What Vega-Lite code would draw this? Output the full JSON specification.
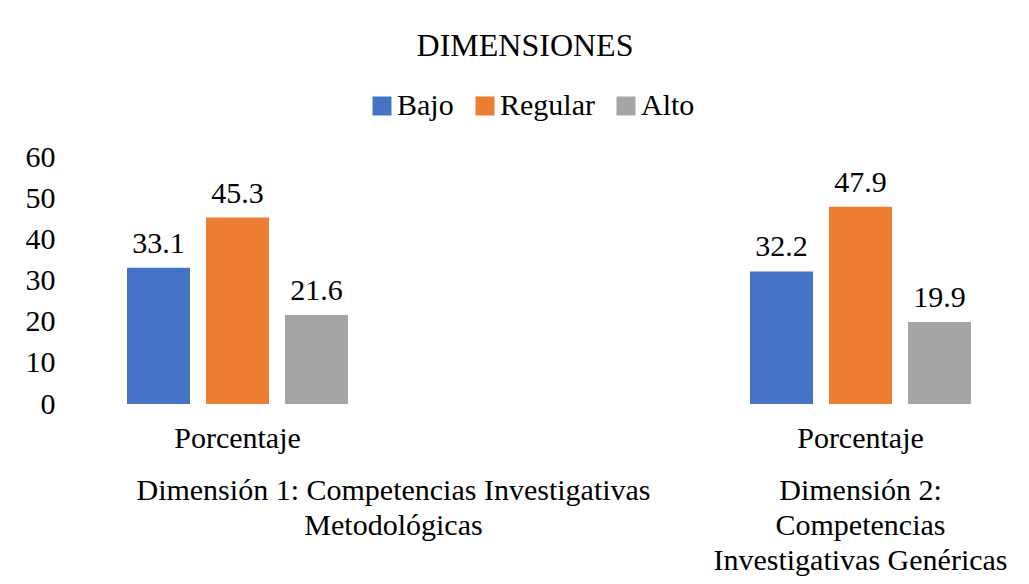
{
  "$schema": "https://vega.github.io/schema/vega-lite/v6.json",
  "width": 950,
  "height": 247,
  "autosize": {"type": "none"},
  "padding": {"left": 74, "top": 157, "right": 5, "bottom": 180},
  "background": "white",
  "title": {
    "text": "DIMENSIONES",
    "font": "Liberation Serif",
    "fontSize": 32,
    "fontWeight": "normal",
    "color": "#000000",
    "anchor": "middle",
    "frame": "group",
    "dx": -24,
    "offset": 28
  },
  "data": {
    "values": [
      {"dimension": "Dimensión 1: Competencias Investigativas Metodológicas", "nivel": "Bajo", "valor": 33.1},
      {"dimension": "Dimensión 1: Competencias Investigativas Metodológicas", "nivel": "Regular", "valor": 45.3},
      {"dimension": "Dimensión 1: Competencias Investigativas Metodológicas", "nivel": "Alto", "valor": 21.6},
      {"dimension": "Dimensión 2: Competencias Investigativas Genéricas", "nivel": "Bajo", "valor": 32.2},
      {"dimension": "Dimensión 2: Competencias Investigativas Genéricas", "nivel": "Regular", "valor": 47.9},
      {"dimension": "Dimensión 2: Competencias Investigativas Genéricas", "nivel": "Alto", "valor": 19.9}
    ]
  },
  "config": {
    "font": "Liberation Serif",
    "view": {"stroke": null},
    "axis": {
      "grid": false,
      "domain": false,
      "ticks": false,
      "tickSize": 0,
      "labelFont": "Liberation Serif",
      "labelFontSize": 30,
      "labelColor": "#000000"
    }
  },
  "layer": [
    {
      "mark": {"type": "bar"},
      "encoding": {
        "x": {
          "field": "dimension",
          "type": "nominal",
          "sort": null,
          "scale": {"paddingInner": 0.6453, "paddingOuter": 0.0851},
          "axis": {"title": null, "orient": "bottom", "labelExpr": "'Porcentaje'", "labelAngle": 0, "labelPadding": 19, "labelBaseline": "top"}
        },
        "xOffset": {
          "field": "nivel",
          "type": "nominal",
          "sort": ["Bajo", "Regular", "Alto"],
          "scale": {"paddingInner": 0.2025, "paddingOuter": 0}
        },
        "y": {
          "field": "valor",
          "type": "quantitative",
          "scale": {"domain": [0, 60], "nice": false},
          "axis": {"title": null, "values": [0, 10, 20, 30, 40, 50, 60], "labelPadding": 19}
        },
        "color": {
          "field": "nivel",
          "type": "nominal",
          "sort": ["Bajo", "Regular", "Alto"],
          "scale": {"domain": ["Bajo", "Regular", "Alto"], "range": ["#4472C4", "#ED7D31", "#A5A5A5"]},
          "legend": {
            "title": null,
            "orient": "none",
            "direction": "horizontal",
            "legendX": 293,
            "legendY": -66,
            "padding": 0,
            "symbolType": "square",
            "symbolSize": 361,
            "symbolStrokeWidth": 0,
            "symbolOpacity": 1,
            "labelFont": "Liberation Serif",
            "labelFontSize": 30,
            "labelColor": "#000000",
            "labelOffset": 0,
            "columnPadding": 16
          }
        }
      }
    },
    {
      "mark": {"type": "text", "baseline": "alphabetic", "dy": -15, "fontSize": 30, "font": "Liberation Serif", "color": "#000000"},
      "encoding": {
        "x": {
          "field": "dimension",
          "type": "nominal",
          "sort": null,
          "axis": {
            "title": null,
            "orient": "bottom",
            "offset": 52,
            "labelAngle": 0,
            "labelPadding": 19,
            "labelBaseline": "top",
            "labelLineHeight": 35,
            "labelLimit": 0,
            "labelOverlap": false,
            "labelBound": false,
            "labelOffset": {"condition": {"test": "indexof(datum.value, 'Dimensión 1') >= 0", "value": 156}, "value": 0},
            "labelExpr": "indexof(datum.value, 'Dimensión 1') >= 0 ? ['Dimensión 1: Competencias Investigativas', 'Metodológicas'] : ['Dimensión 2:', 'Competencias', 'Investigativas Genéricas']"
          }
        },
        "xOffset": {"field": "nivel", "type": "nominal", "sort": ["Bajo", "Regular", "Alto"]},
        "y": {"field": "valor", "type": "quantitative"},
        "text": {"field": "valor", "type": "quantitative", "format": ".1f"}
      }
    }
  ],
  "resolve": {"axis": {"x": "independent"}}
}
